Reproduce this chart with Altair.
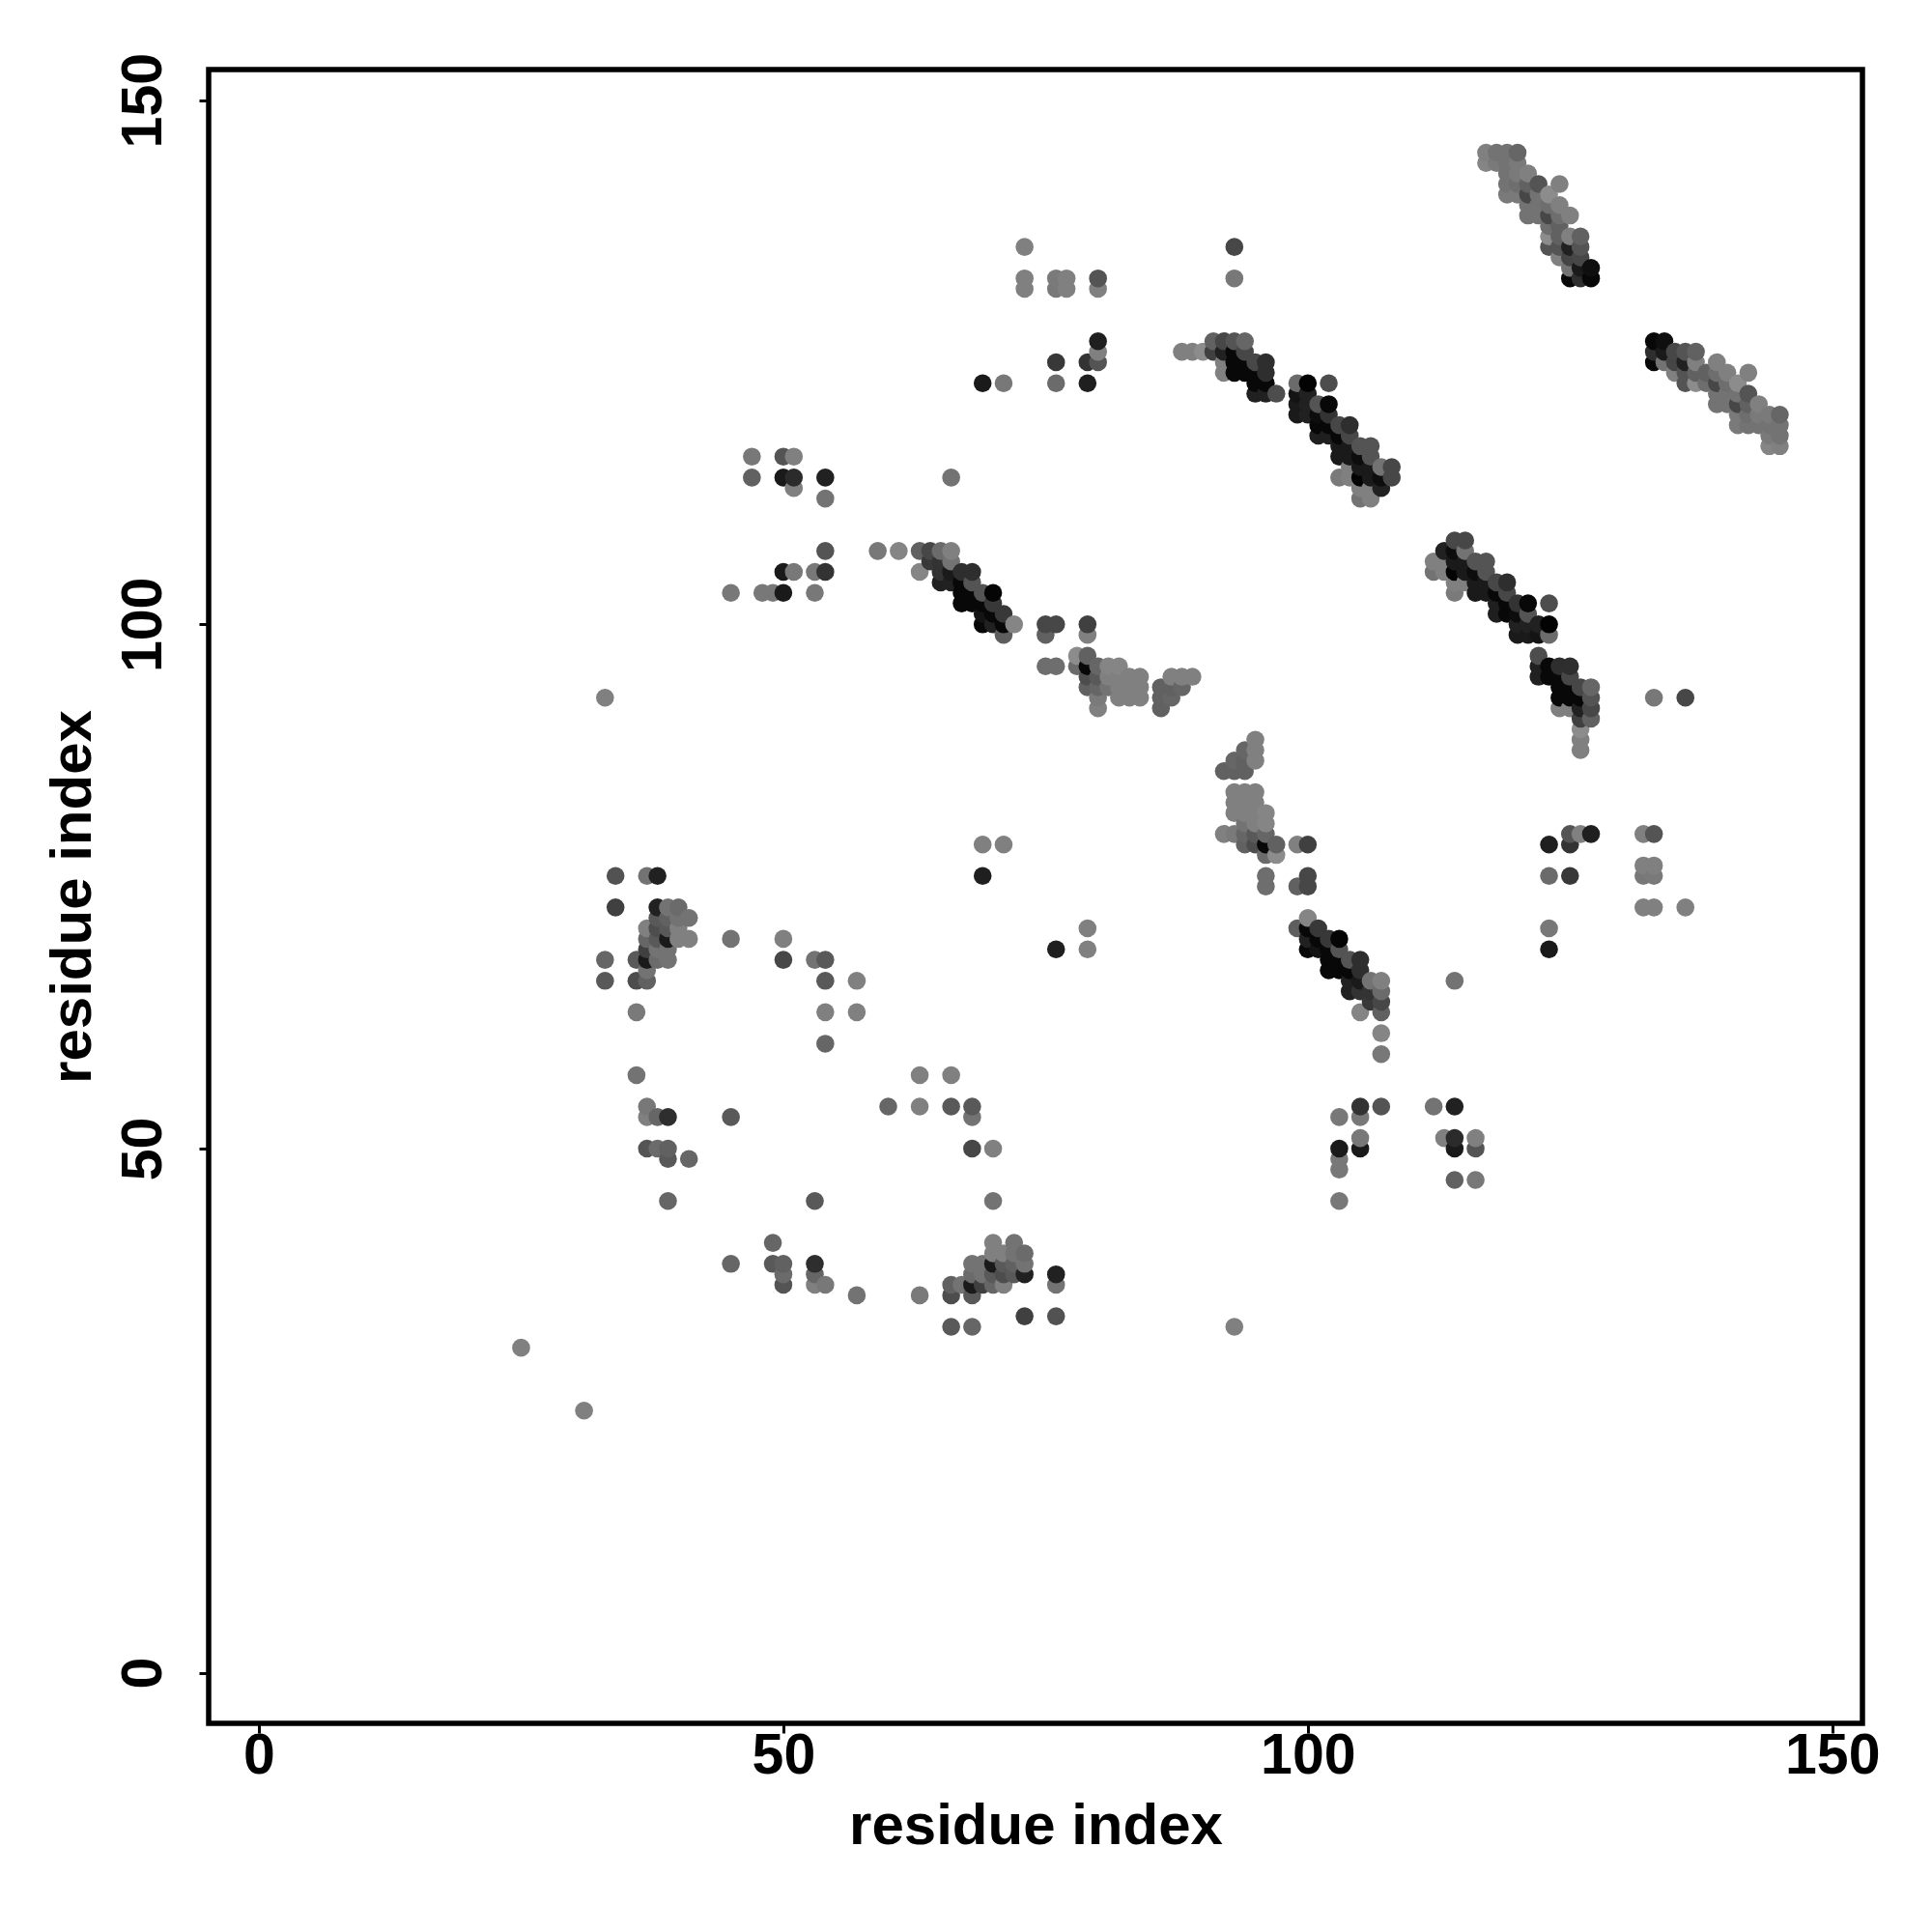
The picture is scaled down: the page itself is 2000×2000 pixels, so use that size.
import altair as alt
import pandas as pd

# each row: residue j, partner residues i (i < j), grey level of each contact
rows_low = [
    (31, [25], [.5]),
    (45, [39], [.4]),
    (49, [39, 41], [.35, .4]),
    (50, [37, 38, 39], [.33, .42, .38]),
    (53, [37, 38, 39, 45], [.5, .4, .18, .35]),
    (54, [37], [.47]),
    (57, [36], [.45]),
    (60, [54], [.4]),
    (63, [36, 54, 57], [.48, .5, .5]),
    (66, [33, 36, 37, 54, 57], [.35, .3, .38, .35, .5]),
    (67, [37], [.45]),
    (68, [33, 36, 37, 38, 39, 50, 53, 54], [.4, .35, .1, .42, .45, .28, .45, .35]),
    (69, [37, 38, 39], [.25, .45, .45]),
    (70, [37, 38, 39, 40, 41, 45, 50], [.4, .35, .1, .5, .5, .45, .5]),
    (71, [37, 38, 39, 40], [.5, .3, .35, .5]),
    (72, [38, 39, 40, 41], [.35, .38, .45, .45]),
    (73, [34, 38, 39, 40], [.25, .13, .45, .42]),
    (76, [34, 37, 38, 69], [.32, .45, .13, .12]),
    (79, [69, 71], [.5, .5]),
]
rows_mid = [
    (92, [80, 86], [.5, .38]),
    (93, [33, 80, 82, 83, 84, 86, 87], [.5, .48, .5, .5, .5, .38, .4]),
    (94, [79, 80, 81, 82, 83, 84, 86, 87, 88], [.38, .4, .45, .5, .5, .5, .38, .38, .4]),
    (95, [79, 80, 81, 82, 83, 84, 87, 88, 89], [.3, .35, .5, .5, .5, .5, .5, .5, .5]),
    (96, [75, 76, 78, 79, 80, 81, 82], [.43, .43, .42, .03, .4, .52, .52]),
    (97, [78, 79], [.55, .38]),
    (99, [71, 75, 79], [.37, .38, .5]),
    (100, [69, 70, 71, 72, 75, 76, 79], [.03, .13, .03, .52, .28, .28, .25]),
    (101, [69, 70, 71], [.08, .03, .22]),
    (102, [67, 68, 69, 70], [.03, .03, .03, .22]),
    (103, [45, 48, 49, 50, 53, 67, 68, 69, 70], [.47, .47, .47, .1, .47, .03, .03, .33, .02]),
    (104, [65, 66, 67, 68], [.13, .13, .03, .33]),
    (105, [50, 51, 53, 54, 63, 65, 66, 67, 68], [.1, .47, .47, .2, .52, .2, .1, .18, .18]),
    (106, [64, 65, 66], [.22, .2, .45]),
    (107, [54, 59, 61, 63, 64, 65, 66], [.33, .47, .52, .38, .28, .42, .5]),
    (112, [54, 105, 106], [.45, .45, .5]),
    (113, [51, 105, 106, 107], [.5, .5, .5, .13]),
    (114, [47, 50, 51, 54, 66, 103, 104, 105, 106, 107, 108], [.38, .1, .17, .13, .45, .48, .5, .01, .1, .05, .28]),
    (115, [104, 105, 106, 107, 108], [.5, .1, .1, .45, .28]),
    (116, [47, 50, 51, 103, 104, 105, 106], [.47, .33, .5, .1, .1, .05, .33]),
    (117, [103, 104, 105, 106], [.1, .1, .33, .33]),
    (118, [101, 102, 103, 104], [.12, .12, .03, .28]),
    (119, [101, 102, 103, 104], [.03, .03, .28, .18]),
    (120, [99, 100, 101, 102], [.1, .13, .05, .2]),
    (121, [99, 100, 101, 102], [.1, .13, .33, .03]),
    (122, [95, 96, 97, 99, 100], [.13, .13, .3, .08, .13]),
    (123, [69, 71, 76, 79, 95, 96, 99, 100, 102], [.1, .47, .42, .12, .03, .03, .42, .01, .3]),
]
rows_high = [
    (124, [92, 93, 94, 95, 96], [.5, .03, .03, .03, .18]),
    (125, [76, 79, 80, 92, 93, 94, 95, 96], [.22, .2, .33, .5, .03, .03, .28, .18]),
    (126, [80, 88, 89, 90, 91, 92, 93, 94], [.5, .5, .5, .55, .25, .13, .03, .28]),
    (127, [80, 91, 92, 93, 94], [.12, .38, .28, .33, .4]),
    (132, [73, 76, 77, 80], [.5, .47, .5, .5]),
    (133, [73, 76, 77, 80, 93, 125, 126, 127], [.5, .48, .5, .33, .47, .03, .18, .03]),
    (134, [125, 126, 127], [.45, .1, .06]),
    (135, [124, 125, 126], [.5, .27, .28]),
    (136, [73, 93, 123, 124, 125, 126], [.5, .28, .33, .33, .13, .33]),
    (137, [123, 124, 125, 126], [.55, .38, .5, .38]),
    (138, [123, 124], [.43, .38]),
    (139, [121, 122, 123, 124, 125], [.45, .45, .28, .43, .5]),
    (140, [121, 122, 123, 124], [.45, .45, .43, .5]),
    (141, [119, 120, 121, 122, 123], [.48, .48, .28, .45, .55]),
    (142, [119, 120, 121, 122, 124], [.45, .43, .38, .33, .5]),
    (143, [119, 120, 121], [.45, .48, .5]),
    (144, [117, 118, 119, 120], [.52, .48, .45, .48]),
    (145, [117, 118, 119, 120], [.5, .45, .45, .4]),
]

records = []
for j, partners, greys in rows_low + rows_mid + rows_high:
    for i, g in zip(partners, greys):
        records.append({"x": i, "y": j, "grey": g})
        records.append({"x": j, "y": i, "grey": g})

df = pd.DataFrame(records).sort_values(["x", "y"]).reset_index(drop=True)

x_domain = [-4.79, 152.88]
y_domain = [-4.83, 152.92]
font = "Liberation Sans"
label_size = 59
title_size = 60

chart = (
    alt.Chart(df)
    .mark_circle(size=345, opacity=1)
    .encode(
        x=alt.X(
            "x:Q",
            scale=alt.Scale(domain=x_domain, nice=False, zero=False),
            axis=alt.Axis(
                values=[0, 50, 100, 150], title="residue index", grid=False, domain=False,
                tickSize=10, tickWidth=3, tickColor="black", labelFontSize=label_size, labelFont=font,
                labelFontWeight="bold", labelColor="black", labelPadding=-6,
                titleFontSize=title_size, titleFont=font, titleFontWeight="bold", titleColor="black",
                titlePadding=14,
            ),
        ),
        y=alt.Y(
            "y:Q",
            scale=alt.Scale(domain=y_domain, nice=False, zero=False),
            axis=alt.Axis(
                values=[0, 50, 100, 150], title="residue index", grid=False, domain=False,
                tickSize=10, tickWidth=3, tickColor="black", labelFontSize=label_size, labelFont=font,
                labelFontWeight="bold", labelColor="black", labelAngle=270, labelAlign="center",
                labelBaseline="bottom", labelPadding=28,
                titleFontSize=title_size, titleFont=font, titleFontWeight="bold", titleColor="black",
                titlePadding=13,
            ),
        ),
        color=alt.Color(
            "grey:Q",
            scale=alt.Scale(domain=[0, 1], range=["#000000", "#ffffff"], interpolate="rgb"),
            legend=None,
        ),
    )
    .properties(
        width=1712,
        height=1712,
        padding={"left": 208, "top": 64, "right": 40, "bottom": 170},
        autosize=alt.AutoSizeParams(type="none"),
        background="white",
    )
    .configure_view(stroke="black", strokeWidth=5.5, fill="white")
)

chart.save("out.html", embed_options={"renderer": "svg", "actions": False})
